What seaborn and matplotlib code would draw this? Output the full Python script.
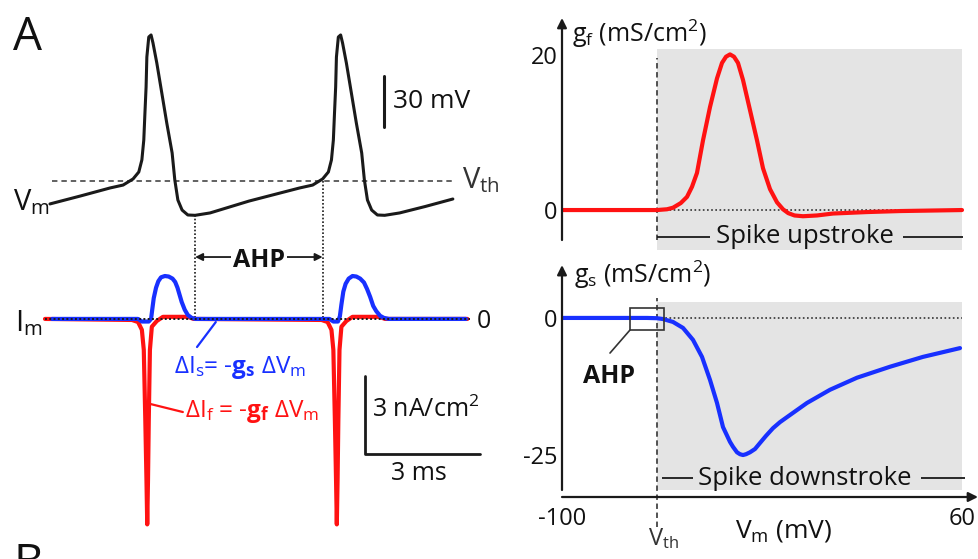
import numpy as np
import matplotlib.pyplot as plt
import matplotlib.patches as mpatches
import seaborn as sns

# ---- panel A left: two spikes (time in ms, Vm in mV) ----
vm_time = [0.0, 0.8, 1.57, 1.91, 2.17, 2.32, 2.40, 2.45, 2.48, 2.51, 2.53, 2.58, 2.64, 2.69,
           2.79, 2.92, 3.05, 3.19, 3.26, 3.34, 3.45, 3.60, 3.79, 4.18, 5.2, 6.52, 6.86,
           7.12, 7.27, 7.35, 7.40, 7.43, 7.46, 7.48, 7.53, 7.59, 7.64, 7.74, 7.87, 8.00,
           8.14, 8.21, 8.29, 8.40, 8.55, 8.74, 9.13, 9.8, 10.52]
vm_mv = [-75.5, -70.8, -66.1, -64.4, -60.8, -56.7, -49.6, -37.9, -22, -6.7, 10.9, 22.7,
         23.9, 19.2, 7.4, -10.2, -27.9, -45.5, -61.4, -73.2, -79.1, -82, -82.2, -80.8,
         -73.8, -66.1, -64.4, -60.8, -56.7, -49.6, -37.9, -22, -6.7, 10.9, 22.7, 23.9,
         19.2, 7.4, -10.2, -27.9, -45.5, -61.4, -73.2, -79.1, -82, -82.2, -80.8, -77,
         -72.6]
v_th = -62

# membrane currents (nA/cm2)
if_time = [-0.13, 2.14, 2.30, 2.40, 2.45, 2.49, 2.52, 2.54, 2.56, 2.58, 2.61, 2.66, 2.79,
           2.87, 2.95, 3.6, 3.75, 7.09, 7.25, 7.35, 7.40, 7.44, 7.47, 7.49, 7.51, 7.53,
           7.56, 7.61, 7.74, 7.82, 7.9, 8.6, 8.75, 10.9]
if_val = [0, -0.04, -0.12, -0.42, -1.19, -3.9, -6.2, -7.9, -6.2, -3.9, -1.19, -0.3, -0.08,
          0, 0.08, 0.08, 0, -0.04, -0.12, -0.42, -1.19, -3.9, -6.2, -7.9, -6.2, -3.9,
          -1.19, -0.3, -0.08, 0, 0.08, 0.08, 0, 0]
is_time = [0.05, 2.3, 2.4, 2.58, 2.64, 2.67, 2.71, 2.77, 2.83, 2.9, 3.0, 3.1, 3.2, 3.27,
           3.33, 3.38, 3.44, 3.52, 3.6, 3.7, 3.8, 7.3, 7.4, 7.52, 7.57, 7.61, 7.66, 7.72,
           7.8, 7.9, 8.0, 8.1, 8.2, 8.28, 8.36, 8.44, 8.52, 8.62, 8.72, 8.85, 10.86]
is_val = [0, 0, -0.1, -0.1, 0, 0.35, 0.8, 1.2, 1.45, 1.6, 1.65, 1.63, 1.55, 1.42, 1.2,
          0.95, 0.65, 0.35, 0.15, 0.04, 0, 0, -0.1, -0.1, 0.1, 0.55, 1.05, 1.35, 1.55,
          1.65, 1.63, 1.55, 1.4, 1.15, 0.85, 0.5, 0.3, 0.12, 0.04, 0, 0]

bar_mv = 30
bar_na = 3
bar_ms = 3

# ---- panel A right: conductances vs Vm ----
gf_vm = [-100, -62, -58, -55.6, -52.5, -50, -48, -46, -43.6, -40.8, -38, -36, -34.4,
         -32.8, -31.2, -29.6, -27.6, -24.8, -22, -19.6, -16.8, -14, -11.6, -9.5, -7,
         -3.6, 2, 8.4, 22, 35.2, 60]
gf_val = [0, 0, 0.1, 0.3, 0.9, 1.7, 3.0, 4.8, 9.0, 13.3, 17.0, 19.0, 19.8, 20.1, 19.8,
          19.0, 16.8, 12.9, 9.0, 5.4, 2.7, 1.0, 0.1, -0.4, -0.7, -0.8, -0.7, -0.45,
          -0.26, -0.13, 0]
gs_vm = [-100, -66, -62, -59.6, -55.6, -51.6, -47.6, -44, -40.8, -38, -35.6, -32.8, -31.6,
         -30, -28.8, -27.6, -26.4, -24.8, -22.8, -20.8, -18.4, -15.6, -12.8, -8.8, -2, 7.2,
         18, 31.2, 44.4, 59.2]
gs_val = [0, 0, -0.05, -0.2, -0.73, -1.82, -4.0, -7.1, -11.3, -15.5, -19.9, -22.6, -23.5,
          -24.5, -24.85, -25.0, -24.85, -24.5, -23.9, -22.8, -21.5, -20.1, -19.0, -17.7,
          -15.5, -13.1, -10.9, -8.9, -7.1, -5.5]
vm_lims = [-100, 60]
gf_ticks = [0, 20]
gs_ticks = [-25, 0]

RED = '#ff1212'
BLUE = '#1830ff'
GRAY = '#e4e4e4'
INK = '#111111'

sns.set_theme(style='white')
plt.rcParams['font.family'] = ['Open Sans', 'DejaVu Sans']
plt.rcParams['mathtext.fontset'] = 'custom'
plt.rcParams['mathtext.rm'] = 'Open Sans'
plt.rcParams['mathtext.it'] = 'Open Sans:italic'
plt.rcParams['mathtext.bf'] = 'Open Sans:bold'
plt.rcParams['mathtext.default'] = 'regular'
plt.rcParams['text.color'] = INK

W, H = 979, 559
fig = plt.figure(figsize=(W / 100, H / 100), dpi=100)


def box(x0, y0, x1, y1):
    return [x0 / W, 1 - y1 / H, (x1 - x0) / W, (y1 - y0) / H]


def ftext(x, y, s, **kw):
    kw.setdefault('va', 'baseline')
    fig.text(x / W, 1 - y / H, s, **kw)


# ---------------- left: Vm and Im traces ----------------
ax_v = fig.add_axes(box(40, 20, 490, 250))
ax_i = fig.add_axes(box(40, 250, 490, 540))
v_lo, v_hi = -102.6, 32.7
i_lo, i_hi = -8.5, 2.65

ax_v.axhline(v_th, 0.027, 0.922, color='#555555', lw=1.3, ls=(0, (3, 2.2)))
sns.lineplot(x=vm_time, y=vm_mv, ax=ax_v, color='k', lw=2.2, estimator=None, sort=False)

vm = np.array(vm_mv)
i0 = int(np.argmin(vm[:len(vm) // 2]))
i1 = i0 + int(np.argmax(vm[i0:] >= v_th))
t0, t1 = vm_time[i0], vm_time[i1]
dot = dict(color='k', lw=1.2, ls=(0, (1, 1.2)), clip_on=False)
ax_v.plot([t0, t0], [vm[i0], v_lo], **dot)
ax_v.plot([t1, t1], [v_th, v_lo], **dot)
ax_i.plot([t0, t0], [i_hi, 0], **dot)
ax_i.plot([t1, t1], [i_hi, 0], **dot)

sns.lineplot(x=if_time, y=if_val, ax=ax_i, color=RED, lw=3, estimator=None, sort=False)
sns.lineplot(x=is_time, y=is_val, ax=ax_i, color=BLUE, lw=3, estimator=None, sort=False)
ax_i.axhline(0, 0.011, 0.956, color='k', lw=1.4, ls=(0, (1, 1.2)), zorder=5)

# AHP arrow
y_arr = 2.38
ax_i.annotate('', xy=(t0, y_arr), xytext=(t1, y_arr), annotation_clip=False,
              arrowprops=dict(arrowstyle='<|-|>', color='k', lw=1.3, mutation_scale=11,
                              shrinkA=0, shrinkB=0))
ax_i.text((t0 + t1) / 2, 2.0, 'AHP', ha='center', va='baseline', fontsize=18,
          fontweight='bold', bbox=dict(fc='white', ec='none', pad=1.5))

# leaders to the traces
ax_i.plot([3.84, 4.33], [-1.08, -0.12], color=BLUE, lw=1.6, clip_on=False)
ax_i.plot([3.47, 2.62], [-3.58, -3.27], color=RED, lw=1.6, clip_on=False)

# scale bars
ax_v.plot([8.72, 8.72], [0, -bar_mv], color='k', lw=2.2, clip_on=False)
ax_i.plot([8.22, 8.22, 8.22 + bar_ms], [-5.2 + bar_na, -5.2, -5.2], color='k', lw=2.0,
          clip_on=False)

for ax in (ax_v, ax_i):
    ax.set_axis_off()
    ax.set_xlim(-0.26, 11.49)
ax_v.set_ylim(v_lo, v_hi)
ax_i.set_ylim(i_lo, i_hi)

ftext(13, 50, 'A', fontsize=33)
ftext(13, 577, 'B', fontsize=33)
ftext(13, 210, 'V$_m$', fontsize=21)
ftext(462, 188, 'V$_{th}$', fontsize=21, color='#333333')
ftext(393, 108, '30 mV', fontsize=19)
ftext(15, 331, 'I$_m$', fontsize=21)
ftext(477, 328, '0', fontsize=18)
ftext(174, 373, r'ΔI$_s$= -$\mathbf{g_s}$ ΔV$_m$', fontsize=17.5, color=BLUE)
ftext(185, 417, r'ΔI$_f$ = -$\mathbf{g_f}$ ΔV$_m$', fontsize=17.5, color=RED)
ftext(372, 417, '3 nA/cm$^2$', fontsize=18)
ftext(391, 480, '3 ms', fontsize=18)

# ---------------- right: conductance curves ----------------
ax_f = fig.add_axes(box(562, 18, 978, 250))
ax_s = fig.add_axes(box(562, 262, 978, 500))
arrow = dict(arrowstyle='-|>', color='k', lw=1.6, mutation_scale=14, shrinkA=0, shrinkB=0)

# g_f
ax_f.axvspan(v_th, vm_lims[1], 0, 0.866, color=GRAY, lw=0, zorder=0)
ax_f.axvline(v_th, 0.043, 0.828, color='#444444', lw=1.3, ls=(0, (3, 2)))
ax_f.hlines(0, v_th, vm_lims[1], color='#333333', lw=1.2, ls=(0, (1, 1.5)))
sns.lineplot(x=gf_vm, y=gf_val, ax=ax_f, color=RED, lw=3, estimator=None, sort=False)
ax_f.annotate('', xy=(0, 1), xytext=(0, 0.043), xycoords='axes fraction', arrowprops=arrow)
ax_f.hlines([-3.48, -3.48], [v_th, 36.4], [-40.8, 60.4], color='k', lw=1.3)
ax_f.text(-2.8, -3.48, 'Spike upstroke', ha='center', va='center', fontsize=18.5)
ax_f.set_ylim(-5.16, 24.8)
ax_f.set_yticks(gf_ticks)
ax_f.set_yticklabels([str(t) for t in gf_ticks])
ax_f.set_xticks([])

# g_s
ax_s.axvspan(v_th, vm_lims[1], 0.042, 0.832, color=GRAY, lw=0, zorder=0)
ax_s.axvline(v_th, -0.113, 0.849, color='#444444', lw=1.3, ls=(0, (3, 2)), clip_on=False)
ax_s.hlines(0, v_th, vm_lims[1], color='#333333', lw=1.2, ls=(0, (1, 1.5)))
sns.lineplot(x=gs_vm, y=gs_val, ax=ax_s, color=BLUE, lw=3, estimator=None, sort=False)
ax_s.annotate('', xy=(0, 0.987), xytext=(0, 0.042), xycoords='axes fraction', arrowprops=arrow)
ax_s.annotate('', xy=(1, 0.0126), xytext=(0, 0.0126), xycoords='axes fraction',
              arrowprops=arrow)
ax_s.hlines([-29.2, -29.2], [-60, 43.6], [-47.6, 61.2], color='k', lw=1.3)
ax_s.text(-2.8, -29.2, 'Spike downstroke', ha='center', va='center', fontsize=18.5)
ax_s.add_patch(mpatches.Rectangle((-72.8, -2.2), 13.6, 4.0, fill=False, ec='#333333',
                                  lw=1.2, zorder=4))
ax_s.plot([-72.8, -80.8], [-2.2, -6.4], color='#333333', lw=1.2)
ax_s.text(-81.2, -11.9, 'AHP', ha='center', va='baseline', fontsize=18, fontweight='bold')
ax_s.set_ylim(-33.2, 10.2)
ax_s.set_yticks(gs_ticks)
ax_s.set_yticklabels([str(t) for t in gs_ticks])
ax_s.set_xticks(vm_lims)
ax_s.set_xticklabels([str(t) for t in vm_lims])

for ax in (ax_f, ax_s):
    ax.set_xlim(vm_lims[0], 66.4)
    for sp in ax.spines.values():
        sp.set_visible(False)
    ax.set_facecolor('none')
    ax.grid(False)
    ax.tick_params(length=0, labelsize=17, labelcolor=INK)
    ax.tick_params(axis='y', pad=3)
    ax.tick_params(axis='x', pad=5)
    ax.set_xlabel('')
    ax.set_ylabel('')

ftext(572, 42, 'g$_f$ (mS/cm$^2$)', fontsize=18)
ftext(574, 283, 'g$_s$ (mS/cm$^2$)', fontsize=18)
ftext(735, 537, 'V$_m$ (mV)', fontsize=19)
ftext(648, 545, 'V$_{th}$', fontsize=17, color='#333333')

fig.savefig('out.png', dpi=100, facecolor='white')
